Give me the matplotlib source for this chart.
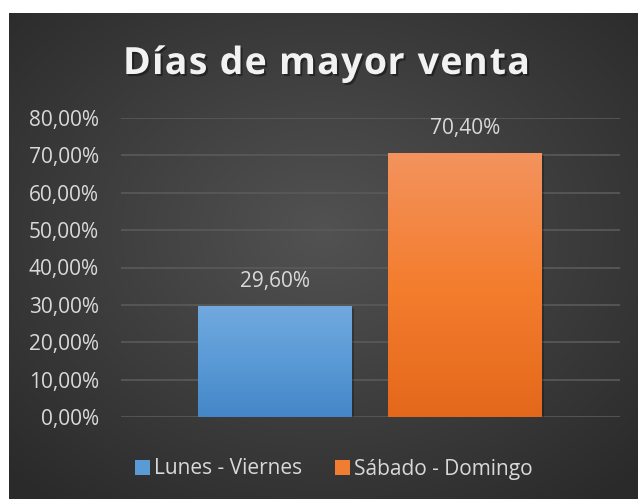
import numpy as np
import matplotlib.pyplot as plt
import matplotlib.patheffects as pe
from matplotlib.colors import LinearSegmentedColormap
from matplotlib.font_manager import FontProperties
from matplotlib.patches import Rectangle

series = ["Lunes - Viernes", "Sábado - Domingo"]
values = [0.296, 0.704]
value_labels = ["29,60%", "70,40%"]
yticks = [0.0, 0.1, 0.2, 0.3, 0.4, 0.5, 0.6, 0.7, 0.8]
ytick_labels = ["0,00%", "10,00%", "20,00%", "30,00%", "40,00%",
                "50,00%", "60,00%", "70,00%", "80,00%"]
title = "Días de mayor venta"

# gradient stops per bar: bottom, middle, top
bar_stops = [["#4486c8", "#5a9ad6", "#71a9df"],
             ["#e4681b", "#f47d2e", "#f3935e"]]
legend_colors = ["#5b9bd5", "#f07d32"]
text_color = "#d9d9d9"

plt.rcParams['font.family'] = ['Open Sans', 'DejaVu Sans']

W, H = 638, 499
fig = plt.figure(figsize=(W / 100, H / 100), dpi=100)
fig.patch.set_facecolor("white")

# dark panel with a radial gradient
bg = fig.add_axes([9 / W, 0, 1 - 9 / W, (H - 13) / H])
bg.set_axis_off()
yy, xx = np.mgrid[0:1:300j, 0:1:400j]
r = np.sqrt(((xx - 0.5) / 0.75) ** 2 + ((yy - 0.55) / 0.75) ** 2)
r = np.clip(r / 0.95, 0, 1)
c0 = np.array([0x52, 0x52, 0x52]) / 255
c1 = np.array([0x2a, 0x2a, 0x2a]) / 255
img = c0 * (1 - r[..., None]) + c1 * r[..., None]
bg.imshow(img, extent=[0, 1, 0, 1], aspect="auto", origin="lower")
bg.set_xlim(0, 1)
bg.set_ylim(0, 1)

ax = fig.add_axes([121 / W, (H - 417) / H, 499 / W, (417 - 118) / H])
ax.patch.set_alpha(0)
x_pos = [0, 1]
width = 154 / 190

for t in yticks:
    ax.axhline(t, color="#5a5a5a", lw=1.2, zorder=1)

grad = np.linspace(0, 1, 256)[:, None] * np.ones((1, 2))
for i, (x, v) in enumerate(zip(x_pos, values)):
    ax.add_patch(Rectangle((x - width / 2 + 0.012, -0.004), width, v,
                           color="black", alpha=0.25, lw=0, zorder=2))
    cmap = LinearSegmentedColormap.from_list(f"bar{i}", bar_stops[i])
    ax.imshow(grad, cmap=cmap, extent=[x - width / 2, x + width / 2, 0, v],
              aspect="auto", origin="lower", zorder=3)
    ax.text(x, v + 0.067, value_labels[i], ha="center", va="center",
            fontsize=15, color=text_color, zorder=4)

ax.set_aspect("auto")
ax.set_xlim((121 - 275) / 190, (620 - 275) / 190)
ax.set_ylim(0, 0.8)
ax.set_yticks(yticks)
ax.set_yticklabels(ytick_labels, fontsize=15, color=text_color)
ax.set_xticks([])
ax.tick_params(axis="y", length=0, pad=16)
for s in ax.spines.values():
    s.set_visible(False)

# title, letter-spaced to the reference width
prop = FontProperties(family="Open Sans", weight="bold", size=27)
rend = fig.canvas.get_renderer()


def tw(s):
    return rend.get_text_width_height_descent(s, prop, ismath=False)[0]


x0, x1 = 123, 530
natural = tw(title)
spacing = (x1 - x0 - natural) / (len(title) - 1)
base = tw("x")
for i, ch in enumerate(title):
    if ch == " ":
        continue
    off = tw(title[:i] + "x") - base if i else 0
    fig.text((x0 + off + i * spacing) / W, 1 - 74 / H, ch, fontproperties=prop,
             ha="left", va="baseline", color="#f2f2f2",
             path_effects=[pe.SimplePatchShadow(offset=(1.5, -1.5),
                                                shadow_rgbFace="black", alpha=0.4),
                           pe.Normal()])

# legend
handles = [Rectangle((0, 0), 1, 1, facecolor=legend_colors[i], edgecolor="none")
           for i in range(2)]
leg = fig.legend(handles, series, loc="center", bbox_to_anchor=(334 / W, 1 - 469 / H),
                 ncol=2, frameon=False, fontsize=15, handlelength=0.7,
                 handleheight=0.7, handletextpad=0.2, columnspacing=1.6)
for t in leg.get_texts():
    t.set_color(text_color)

fig.savefig("out.png", dpi=100)
